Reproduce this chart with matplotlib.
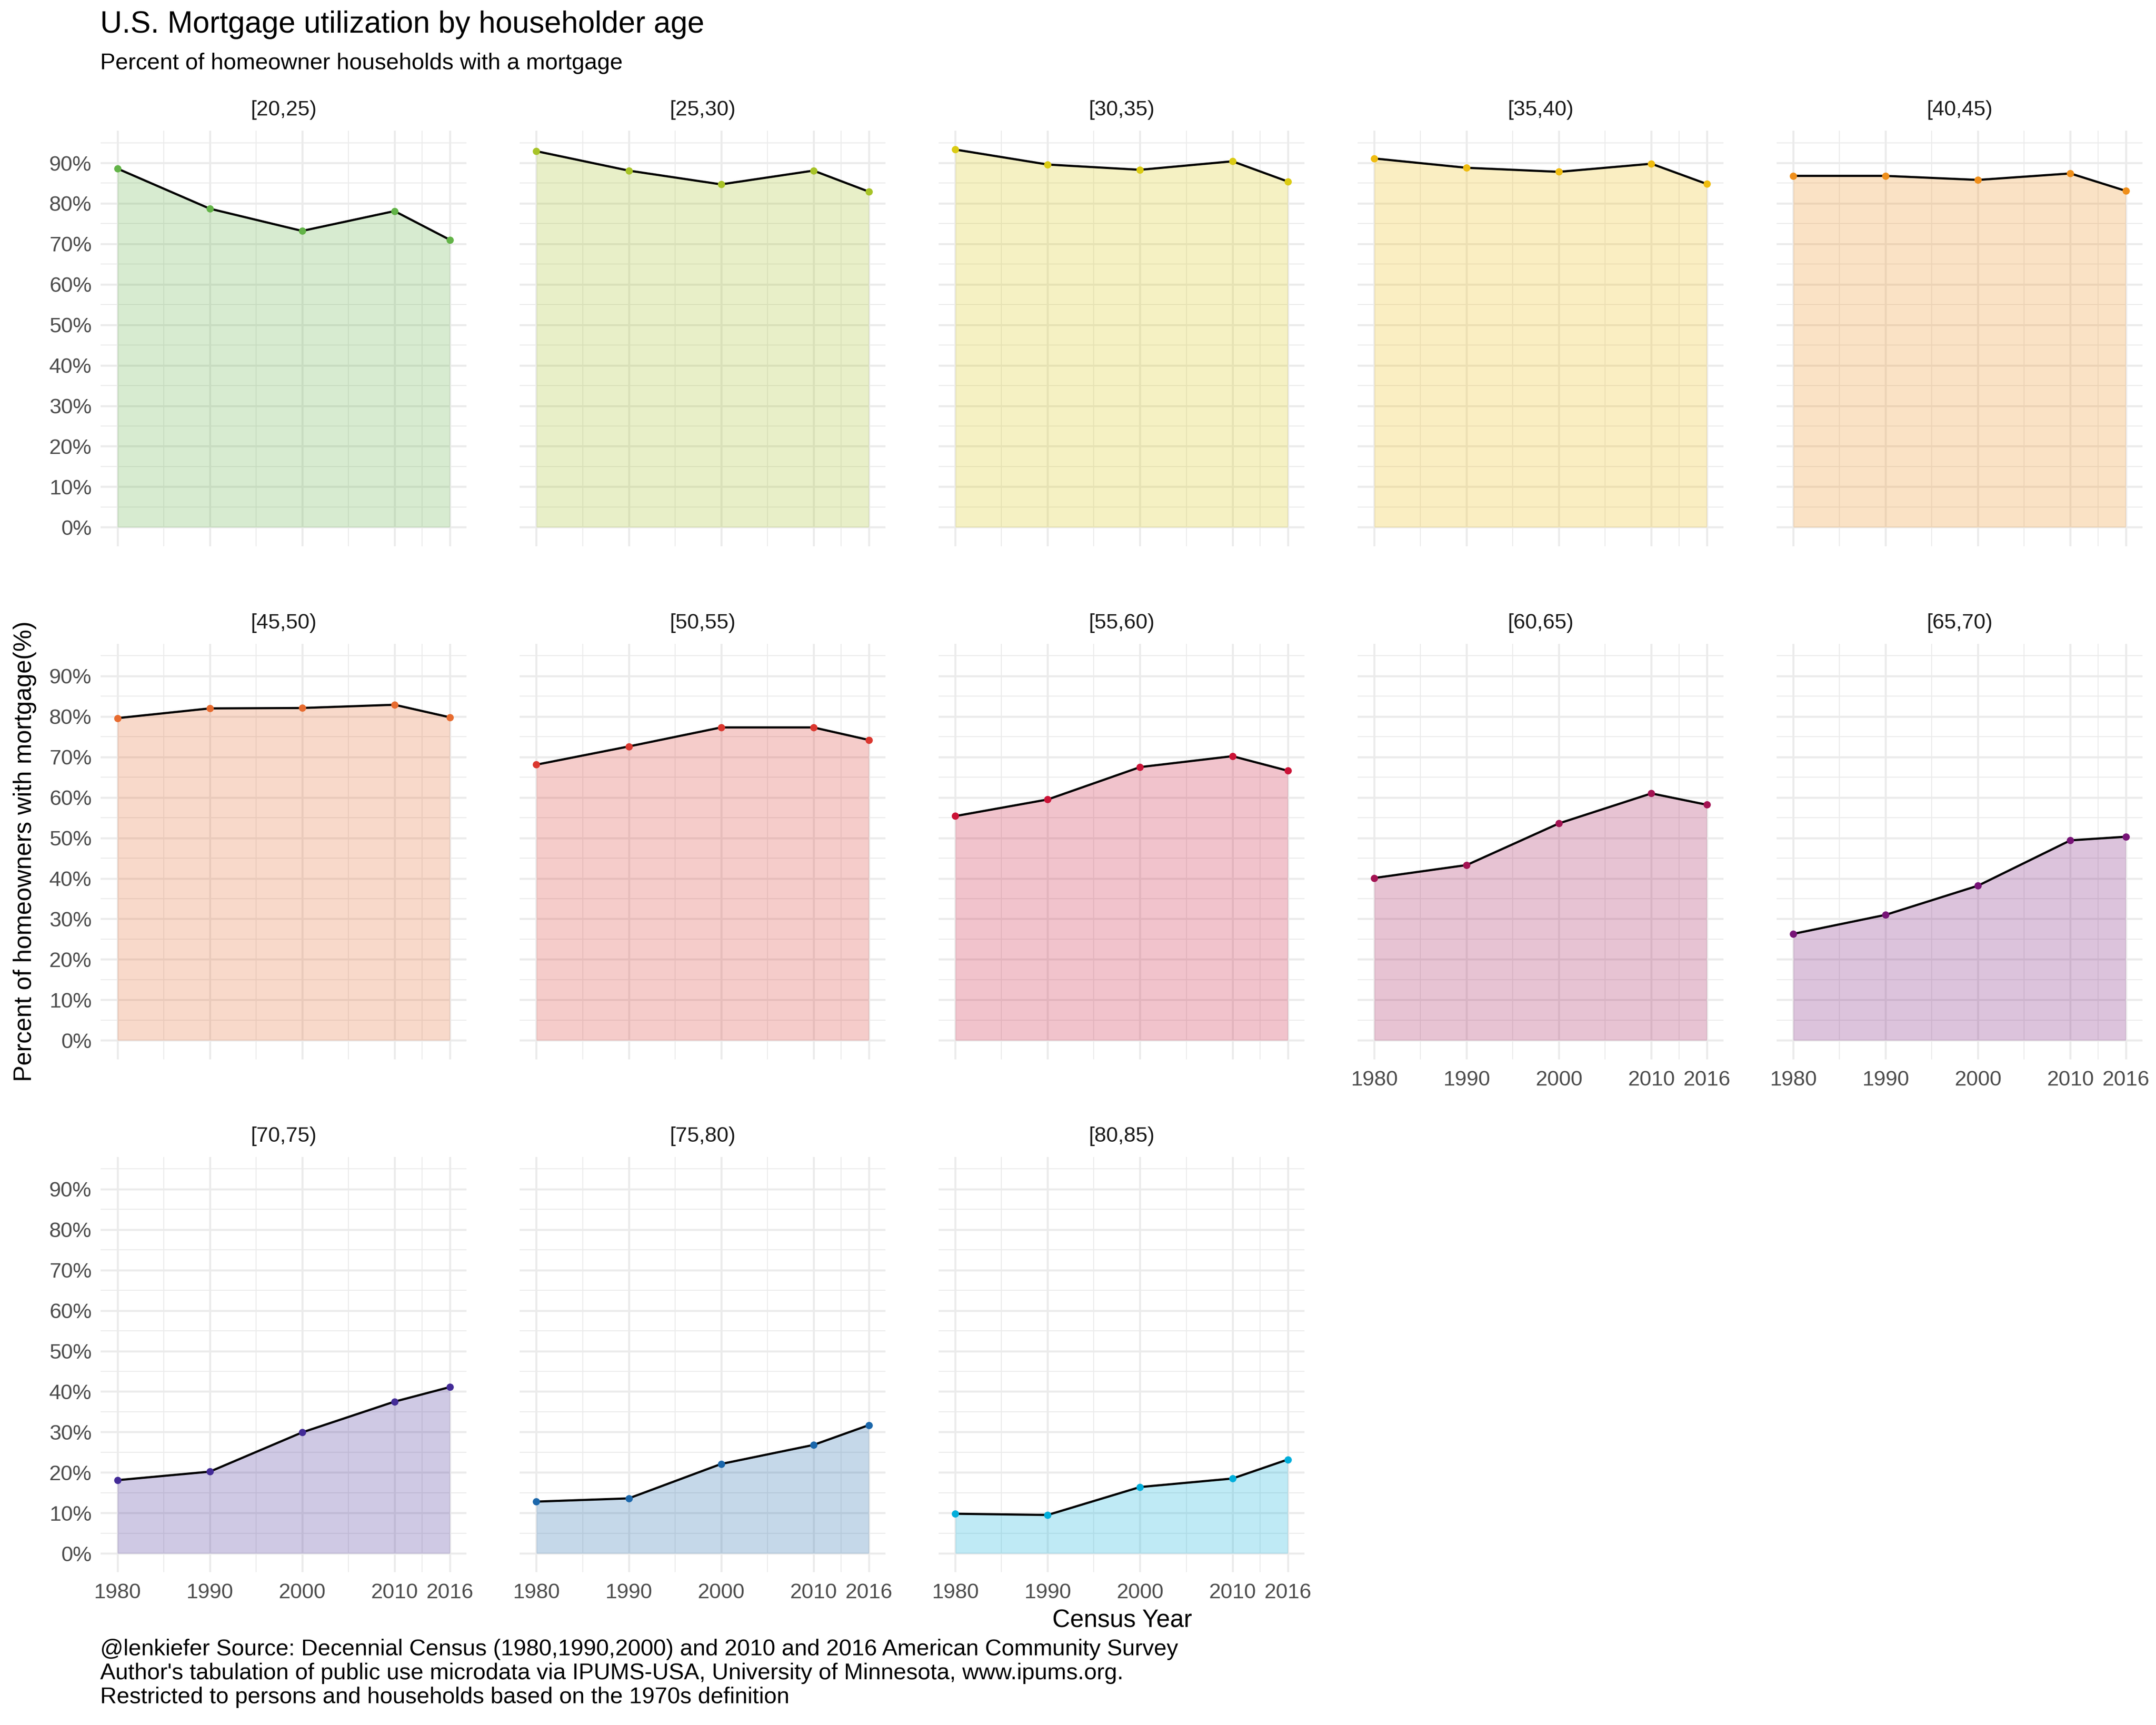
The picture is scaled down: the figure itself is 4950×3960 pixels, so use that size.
import matplotlib
matplotlib.use("Agg")
import matplotlib.pyplot as plt
from matplotlib.ticker import FixedLocator, FixedFormatter

plt.rcParams['font.family'] = ['Liberation Sans', 'DejaVu Sans']

years = [1980, 1990, 2000, 2010, 2016]
age_groups = ["[20,25)", "[25,30)", "[30,35)", "[35,40)", "[40,45)",
              "[45,50)", "[50,55)", "[55,60)", "[60,65)", "[65,70)",
              "[70,75)", "[75,80)", "[80,85)"]

v_20_25 = [88.6, 78.7, 73.2, 78.1, 71.0]
v_25_30 = [92.9, 88.1, 84.7, 88.1, 82.9]
v_30_35 = [93.3, 89.6, 88.3, 90.4, 85.4]
v_35_40 = [91.1, 88.8, 87.8, 89.8, 84.8]
v_40_45 = [86.8, 86.8, 85.8, 87.4, 83.1]
v_45_50 = [79.6, 82.0, 82.1, 82.9, 79.8]
v_50_55 = [68.1, 72.6, 77.3, 77.3, 74.2]
v_55_60 = [55.4, 59.5, 67.5, 70.2, 66.6]
v_60_65 = [40.1, 43.3, 53.6, 61.0, 58.2]
v_65_70 = [26.3, 31.0, 38.2, 49.4, 50.3]
v_70_75 = [18.1, 20.2, 29.9, 37.5, 41.1]
v_75_80 = [12.8, 13.6, 22.1, 26.8, 31.7]
v_80_85 = [9.8, 9.5, 16.4, 18.5, 23.2]

series = [v_20_25, v_25_30, v_30_35, v_35_40, v_40_45, v_45_50, v_50_55,
          v_55_60, v_60_65, v_65_70, v_70_75, v_75_80, v_80_85]

colors = ["#62b347", "#a7c327", "#dbcb13", "#efbc0f", "#ef8f1b",
          "#e76b2f", "#db372f", "#cb1337", "#a31353", "#771377",
          "#432b97", "#1b67ab", "#00aedb"]

y_ticks = [0, 10, 20, 30, 40, 50, 60, 70, 80, 90]
y_labels = ["0%", "10%", "20%", "30%", "40%", "50%", "60%", "70%", "80%", "90%"]
y_minor = [5, 15, 25, 35, 45, 55, 65, 75, 85, 95]
x_ticks = [1980, 1990, 2000, 2010, 2016]
x_labels = ["1980", "1990", "2000", "2010", "2016"]
x_minor = [1985, 1995, 2005, 2013]

W, H = 1568.0, 1254.0
fig = plt.figure(figsize=(16.5, 13.2), dpi=300)

ncol = 5
panel_w = 266.0
col_step = 304.7
left0 = 73.3
panel_h = 302.0
row_step = 373.0
top0 = 95.0

ymax_data = max(max(s) for s in series)
yr = ymax_data - 0
ylim = (0 - 0.05 * yr, ymax_data + 0.05 * yr)
xr = 2016 - 1980
xlim = (1980 - 0.05 * xr, 2016 + 0.05 * xr)

grid_c = "#ebebeb"
tick_c = "#4d4d4d"
fs_tick = 11.7

for i, (lab, vals, c) in enumerate(zip(age_groups, series, colors)):
    r, col = divmod(i, ncol)
    left = (left0 + col * col_step) / W
    top = top0 + r * row_step
    bottom = 1 - (top + panel_h) / H
    ax = fig.add_axes([left, bottom, panel_w / W, panel_h / H])
    ax.set_xlim(*xlim)
    ax.set_ylim(*ylim)
    for s in ax.spines.values():
        s.set_visible(False)
    ax.xaxis.set_major_locator(FixedLocator(x_ticks))
    ax.xaxis.set_minor_locator(FixedLocator(x_minor))
    ax.yaxis.set_major_locator(FixedLocator(y_ticks))
    ax.yaxis.set_minor_locator(FixedLocator(y_minor))
    ax.grid(which='major', color=grid_c, lw=1.1)
    ax.grid(which='minor', color=grid_c, lw=0.55)
    ax.set_axisbelow(True)
    ax.tick_params(which='both', length=0, labelsize=fs_tick, labelcolor=tick_c)
    ax.tick_params(axis='y', pad=5)
    ax.tick_params(axis='x', pad=6)
    # y labels only on first column
    if col == 0:
        ax.yaxis.set_major_formatter(FixedFormatter(y_labels))
    else:
        ax.set_yticklabels([])
    # x labels only on bottom-most panel in each column
    below = i + ncol
    if below >= len(series):
        ax.xaxis.set_major_formatter(FixedFormatter(x_labels))
    else:
        ax.set_xticklabels([])
    ax.fill_between(years, 0, vals, color=c, alpha=0.25, lw=0, zorder=2)
    ax.plot(years, vals, color="black", lw=1.2, zorder=3)
    ax.scatter(years, vals, s=16, color=c, zorder=4, linewidths=0)
    ax.annotate(lab, xy=(0.5, 1.0), xycoords='axes fraction', xytext=(0, 11.4),
                textcoords='offset points', ha='center', va='center',
                fontsize=fs_tick, color="#1a1a1a")

fig.text(73 / W, 1 - 18 / H, "U.S. Mortgage utilization by householder age",
         fontsize=16.7, ha='left', va='center', color='black')
fig.text(73 / W, 1 - 46 / H, "Percent of homeowner households with a mortgage",
         fontsize=12.6, ha='left', va='center', color='black')
fig.text(18 / W, 1 - 619 / H, "Percent of homeowners with mortgage(%)",
         fontsize=13.6, rotation=90, ha='center', va='center', color='black')
fig.text(816 / W, 1 - 1178 / H, "Census Year",
         fontsize=13.6, ha='center', va='center', color='black')
caption = ["@lenkiefer Source: Decennial Census (1980,1990,2000) and 2010 and 2016 American Community Survey",
           "Author's tabulation of public use microdata via IPUMS-USA, University of Minnesota, www.ipums.org.",
           "Restricted to persons and households based on the 1970s definition"]
for k, line in enumerate(caption):
    fig.text(73 / W, 1 - (1199 + 17.5 * k) / H, line,
             fontsize=12.6, ha='left', va='center', color='black')

fig.savefig("out.png", dpi=300, facecolor='white')
